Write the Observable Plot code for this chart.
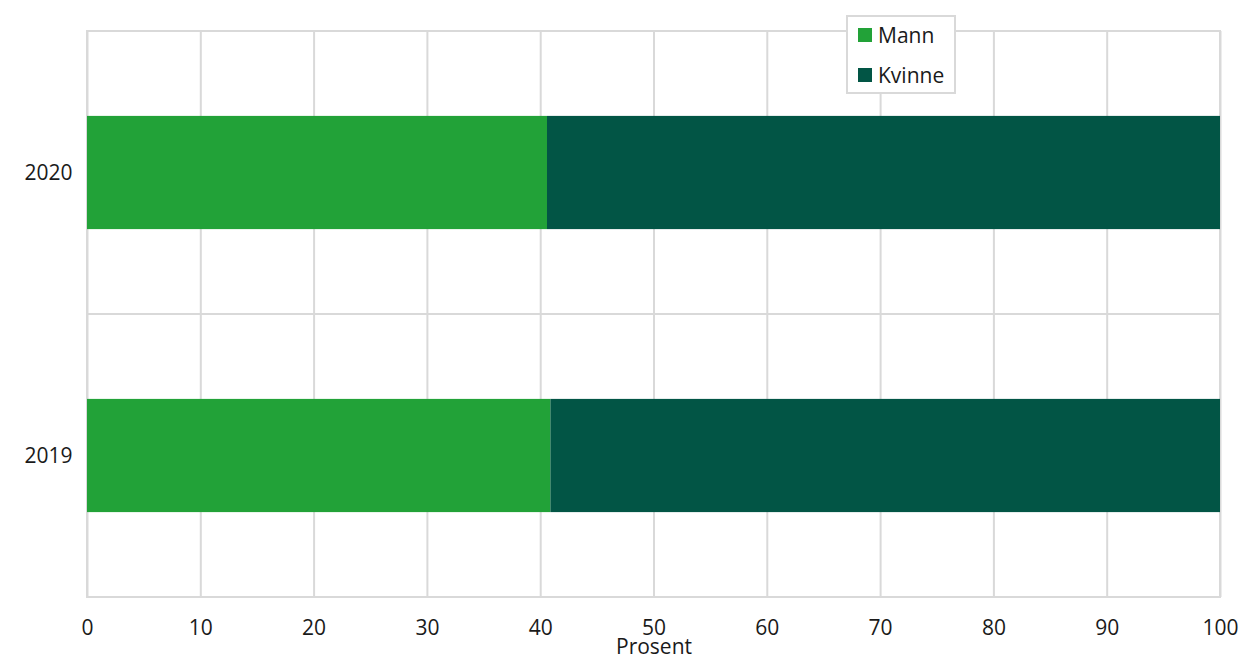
<!DOCTYPE html>
<html>
<head>
<meta charset="utf-8">
<script src="https://cdn.jsdelivr.net/npm/d3@7"></script>
<script src="https://cdn.jsdelivr.net/npm/@observablehq/plot@0.6"></script>
<style>
  html, body { margin: 0; padding: 0; background: #fff; }
  #wrap { position: relative; width: 1239px; height: 659px; font-family: "Open Sans", sans-serif; }
  #legend {
    position: absolute; left: 846px; top: 15px; width: 106px; height: 75px;
    background: #fff; border: 2px solid #d9d9d9; font-size: 21px; color: #1a1a1a;
  }
  .item { position: absolute; left: 10px; display: flex; align-items: center; line-height: 24px; }
  .sw { width: 14px; height: 14px; margin-right: 6px; }
</style>
</head>
<body>
<div id="wrap"></div>
<script>
const years = ["2020", "2019"];
const series = ["Mann", "Kvinne"];
const mann = [40.6, 40.9];
const kvinne = [59.4, 59.1];
const colors = ["#22a238", "#025545"];
const xTicks = [0, 10, 20, 30, 40, 50, 60, 70, 80, 90, 100];

const rows = [];
years.forEach((y, i) => {
  rows.push({year: y, sex: series[0], value: mann[i]});
  rows.push({year: y, sex: series[1], value: kvinne[i]});
});

const W = 1239, H = 659, mT = 31, mB = 62;
const step = (H - mT - mB) / years.length;
const inset = step * 0.3;
const grid = "#d9d9d9";

const chart = Plot.plot({
  width: W, height: H,
  marginLeft: 87, marginRight: 19, marginTop: mT, marginBottom: mB,
  style: {fontFamily: "'Open Sans', sans-serif", fontSize: "21px", color: "#1a1a1a", background: "#fff"},
  x: {domain: [0, 100]},
  y: {domain: years, padding: 0},
  color: {domain: series, range: colors},
  marks: [
    Plot.ruleX(xTicks, {stroke: grid, strokeWidth: 2, strokeOpacity: 1}),
    Plot.barX(years, {x1: 0, x2: 100, y: d => d, fill: "none", stroke: grid, strokeWidth: 2}),
    Plot.barX(rows, Plot.stackX({x: "value", y: "year", fill: "sex", order: series, insetTop: inset, insetBottom: inset})),
    Plot.axisX(xTicks, {tickSize: 0, tickPadding: 23, label: null, fontSize: 21}),
    Plot.axisY({tickSize: 0, tickPadding: 15, label: null, fontSize: 21}),
    Plot.text(["Prosent"], {frameAnchor: "bottom", dy: 50, lineAnchor: "middle", fontSize: 21, fill: "#1a1a1a"})
  ]
});

const wrap = document.getElementById("wrap");
wrap.appendChild(chart);

const legend = document.createElement("div");
legend.id = "legend";
series.forEach((s, i) => {
  const it = document.createElement("div");
  it.className = "item";
  it.style.top = (i === 0 ? 6 : 46) + "px";
  const sw = document.createElement("span");
  sw.className = "sw";
  sw.style.background = colors[i];
  const t = document.createElement("span");
  t.textContent = s;
  it.appendChild(sw); it.appendChild(t);
  legend.appendChild(it);
});
wrap.appendChild(legend);
</script>
</body>
</html>
